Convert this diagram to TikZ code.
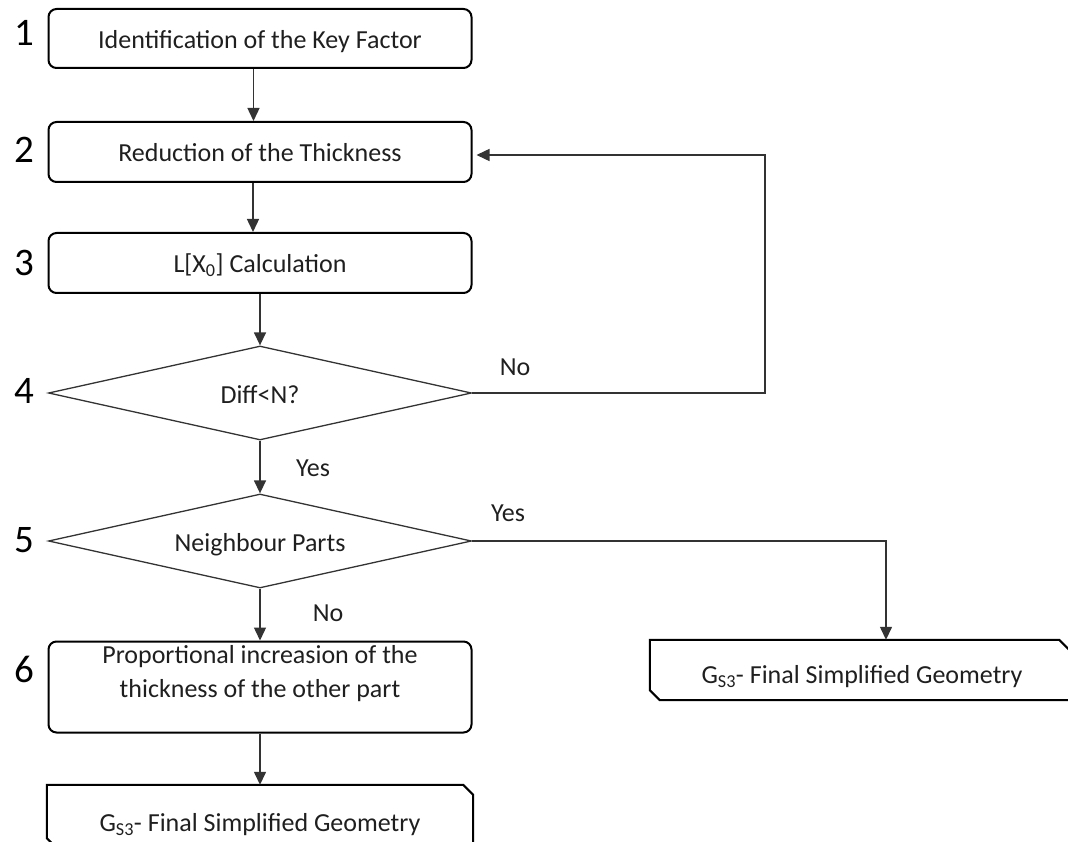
\documentclass[tikz,border=0pt]{standalone}
\usepackage{fontspec}
\setmainfont{Carlito}
\usetikzlibrary{shapes.geometric,arrows.meta}
\begin{document}
\begin{tikzpicture}[x=1pt,y=-1pt,
  box/.style={draw=black, line width=2pt, rounded corners=8pt, minimum width=423pt,
    inner sep=0pt, text=black!88, font=\fontsize{26}{34}\selectfont, align=center,
    text height=20pt, text depth=0pt},
  decision/.style={diamond, aspect=4.5, draw=black!80, line width=1.3pt, minimum width=423pt,
    minimum height=94pt, inner sep=0pt, text=black!88, font=\fontsize{26}{34}\selectfont,
    text height=20pt, text depth=0pt},
  terminal/.style={rectangle, inner sep=0pt},
  termline/.style={draw=black, line width=2pt, line join=miter},
  txt/.style={font=\fontsize{26}{34}\selectfont, text=black!88, inner sep=0pt, align=center},
  num/.style={font=\fontsize{39}{42}\selectfont, inner sep=0pt},
  flow/.style={draw=black!80, line width=1.4pt, -{Triangle[width=12pt,length=13pt]}},
]
\useasboundingbox (0,0) rectangle (1068,842);
\clip (0,0) rectangle (1068,842);

% process steps
\node[box, minimum height=59pt] (n1) at (260,38.5) {Identification of the Key Factor};
\node[box, minimum height=60pt] (n2) at (260,152) {Reduction of the Thickness};
\node[box, minimum height=60pt] (n3) at (260,263) {L[X\textsubscript{0}] Calculation};
\node[decision] (d4) at (260,393) {Diff<N?};
\node[decision] (d5) at (260,541) {Neighbour Parts};
\node[box, minimum height=91pt] (n6) at (260,687) {};
\node[txt] (t6) at (260,674) {Proportional increasion of the\\thickness of the other part};

% end states: rectangles with the north-east and south-west corners cut off
\node[terminal, minimum width=426pt, minimum height=63pt] (g7) at (260,816.5) {};
\draw[termline] (g7.north west) -- ([xshift=-10pt]g7.north east)
  -- ([yshift=-10pt]g7.north east) -- (g7.south east)
  -- ([xshift=10pt]g7.south west) -- ([yshift=10pt]g7.south west) -- cycle;
\node[txt] (t7) at (260,825) {G\textsubscript{S3}- Final Simplified Geometry};

\node[terminal, minimum width=419pt, minimum height=60pt] (g8) at (859.5,670) {};
\draw[termline] (g8.north west) -- ([xshift=-10pt]g8.north east)
  -- ([yshift=-10pt]g8.north east) -- (g8.south east)
  -- ([xshift=10pt]g8.south west) -- ([yshift=10pt]g8.south west) -- cycle;
\node[txt] (t8) at (862,677) {G\textsubscript{S3}- Final Simplified Geometry};

% step numbers
\node[num] (k1) at (24,33) {1};
\node[num] (k2) at (24,150) {2};
\node[num] (k3) at (24,263) {3};
\node[num] (k4) at (24,391) {4};
\node[num] (k5) at (24,540) {5};
\node[num] (k6) at (24,669) {6};

% main flow
\draw[flow] ([xshift=-6.5pt]n1.south) -- ([xshift=-6.5pt]n2.north);
\draw[flow] ([xshift=-7pt]n2.south) -- ([xshift=-7pt]n3.north);
\draw[flow] (n3.south) -- (d4.north);
\draw[flow] (d4.south) -- (d5.north);
\draw[flow] (d5.south) -- (n6.north);
\draw[flow] (n6.south) -- (g7.north);

% loop back when the difference is too large
\coordinate (r4) at (765,155);
\draw[flow, shorten >=4pt] (d4.east) -| (r4) -- (n2.east |- r4);

% neighbour parts branch
\coordinate (r5) at (886,541);
\draw[flow] (d5.east) -- (r5) -- (r5 |- g8.north);

% branch labels
\node[txt] (lno4) at (515,367) {No};
\node[txt] (lyes4) at (313,468) {Yes};
\node[txt] (lyes5) at (508,513) {Yes};
\node[txt] (lno5) at (328,613) {No};
\end{tikzpicture}
\end{document}
